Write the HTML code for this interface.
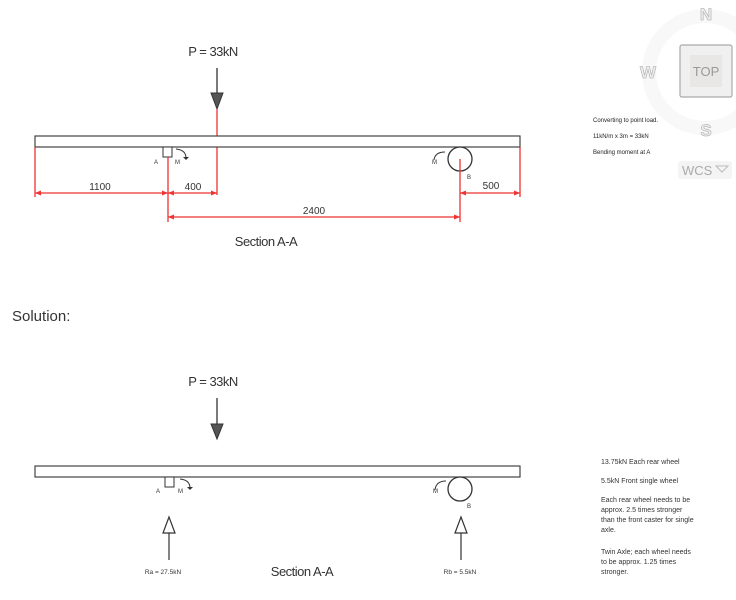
<!DOCTYPE html>
<html><head><meta charset="utf-8"><style>
html,body{margin:0;padding:0;background:#fff;}
svg{display:block;font-family:"Liberation Sans",Arial,sans-serif;}
</style></head><body>
<svg width="736" height="600" viewBox="0 0 736 600" xmlns="http://www.w3.org/2000/svg">
<!-- compass -->
<circle cx="705" cy="72" r="56" fill="none" stroke="#f8f8f8" stroke-width="14"/>
<rect x="680" y="45" width="52" height="52" fill="#f0f0f0" stroke="#aaa" stroke-width="1.2" rx="2"/>
<rect x="690" y="55" width="32" height="32" fill="#e9e6e6"/>
<text x="706" y="76" font-size="13" fill="#999" text-anchor="middle">TOP</text>
<text x="706" y="20" font-size="17" fill="#f2f2f2" stroke="#bbb" stroke-width="0.8" text-anchor="middle" font-weight="bold">N</text>
<text x="648" y="78" font-size="17" fill="#f2f2f2" stroke="#bbb" stroke-width="0.8" text-anchor="middle" font-weight="bold">W</text>
<text x="706" y="136" font-size="17" fill="#f2f2f2" stroke="#bbb" stroke-width="0.8" text-anchor="middle" font-weight="bold">S</text>
<rect x="678" y="161" width="54" height="18" rx="3" fill="#f4f4f4"/>
<text x="682" y="175" font-size="13" fill="#aaa">WCS</text>
<path d="M716,166 L728,166 L722,172 Z" fill="none" stroke="#bbb"/>
<text x="593" y="122" font-size="6" fill="#222">Converting to point load.</text>
<text x="593" y="138" font-size="6" fill="#222">11kN/m x 3m = 33kN</text>
<text x="593" y="154" font-size="6" fill="#222">Bending moment at A</text>

<!-- TOP diagram -->
<text x="213" y="56" font-size="13" fill="#333" text-anchor="middle" letter-spacing="-0.5">P = 33kN</text>
<line x1="217" y1="68" x2="217" y2="93" stroke="#333" stroke-width="1.3"/>
<path d="M211,93 L223,93 L217,109 Z" fill="#555" stroke="#333"/>
<line x1="217" y1="109" x2="217" y2="195" stroke="#e33" stroke-width="1.3"/>
<rect x="35" y="136" width="485" height="11" fill="#fff" stroke="#444" stroke-width="1.2"/>
<rect x="163" y="147" width="9" height="10" fill="#fff" stroke="#333"/>
<text x="154" y="164" font-size="6" fill="#333">A</text>
<text x="175" y="164" font-size="6" fill="#333">M</text>
<path d="M176,149 Q186,150 186,158" fill="none" stroke="#333"/>
<path d="M183,157 L189,157 L186,160 Z" fill="#333"/>
<circle cx="460" cy="159" r="12" fill="#fff" stroke="#333" stroke-width="1.3"/>
<text x="432" y="164" font-size="6" fill="#333">M</text>
<path d="M445,152 Q435,152 434,160" fill="none" stroke="#333"/>
<text x="467" y="179" font-size="6" fill="#333">B</text>
<g stroke="#e33" stroke-width="1.3">
<line x1="35" y1="147" x2="35" y2="197"/>
<line x1="520" y1="147" x2="520" y2="197"/>
<line x1="168" y1="157" x2="168" y2="222"/>
<line x1="460" y1="159" x2="460" y2="222"/>
<line x1="35" y1="193" x2="217" y2="193"/>
<line x1="460" y1="193" x2="520" y2="193"/>
<line x1="168" y1="217" x2="460" y2="217"/>
</g>
<g fill="#e33">
<path d="M35,193 l6,-2.5 v5z"/><path d="M168,193 l-6,-2.5 v5z"/><path d="M168,193 l6,-2.5 v5z"/><path d="M217,193 l-6,-2.5 v5z"/>
<path d="M460,193 l6,-2.5 v5z"/><path d="M520,193 l-6,-2.5 v5z"/>
<path d="M168,217 l6,-2.5 v5z"/><path d="M460,217 l-6,-2.5 v5z"/>
</g>
<text x="100" y="190" font-size="10" fill="#333" text-anchor="middle">1100</text>
<text x="193" y="190" font-size="10" fill="#333" text-anchor="middle">400</text>
<text x="491" y="189" font-size="10" fill="#333" text-anchor="middle">500</text>
<text x="314" y="214" font-size="10" fill="#333" text-anchor="middle">2400</text>
<text x="266" y="246" font-size="13" fill="#333" text-anchor="middle" letter-spacing="-0.5">Section A-A</text>

<text x="12" y="321" font-size="15" fill="#333">Solution:</text>

<!-- LOWER diagram -->
<text x="213" y="386" font-size="13" fill="#333" text-anchor="middle" letter-spacing="-0.5">P = 33kN</text>
<line x1="217" y1="398" x2="217" y2="424" stroke="#333" stroke-width="1.3"/>
<path d="M211,424 L223,424 L217,439 Z" fill="#555" stroke="#333"/>
<rect x="35" y="466" width="485" height="11" fill="#fff" stroke="#444" stroke-width="1.2"/>
<rect x="165" y="477" width="9" height="10" fill="#fff" stroke="#333"/>
<text x="156" y="493" font-size="6" fill="#333">A</text>
<text x="178" y="493" font-size="6" fill="#333">M</text>
<path d="M180,479 Q190,480 190,488" fill="none" stroke="#333"/>
<path d="M187,487 L193,487 L190,490 Z" fill="#333"/>
<circle cx="460" cy="489" r="12" fill="#fff" stroke="#333" stroke-width="1.3"/>
<text x="433" y="493" font-size="6" fill="#333">M</text>
<path d="M446,481 Q436,481 435,490" fill="none" stroke="#333"/>
<text x="467" y="508" font-size="6" fill="#333">B</text>
<path d="M169,517 L175,533 L163,533 Z" fill="#fff" stroke="#333" stroke-width="1.2"/>
<line x1="169" y1="533" x2="169" y2="560" stroke="#333" stroke-width="1.2"/>
<path d="M461,517 L467,533 L455,533 Z" fill="#fff" stroke="#333" stroke-width="1.2"/>
<line x1="461" y1="533" x2="461" y2="560" stroke="#333" stroke-width="1.2"/>
<text x="163" y="574" font-size="6.5" fill="#333" text-anchor="middle">Ra = 27.5kN</text>
<text x="460" y="574" font-size="6.5" fill="#333" text-anchor="middle">Rb = 5.5kN</text>
<text x="302" y="576" font-size="13" fill="#333" text-anchor="middle" letter-spacing="-0.5">Section A-A</text>

<g font-size="7" fill="#333">
<text x="601" y="464">13.75kN Each rear wheel</text>
<text x="601" y="483">5.5kN Front single wheel</text>
<text x="601" y="502">Each rear wheel needs to be</text>
<text x="601" y="512">approx. 2.5 times stronger</text>
<text x="601" y="522">than the front caster for single</text>
<text x="601" y="532">axle.</text>
<text x="601" y="554">Twin Axle; each wheel needs</text>
<text x="601" y="564">to be approx. 1.25 times</text>
<text x="601" y="574">stronger.</text>
</g>
</svg>
</body></html>
